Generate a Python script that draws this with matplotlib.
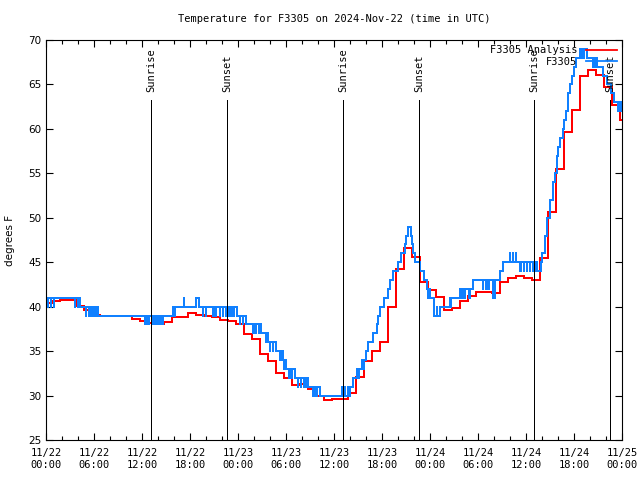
import numpy as np
import matplotlib
matplotlib.use("Agg")
import matplotlib.pyplot as plt
from matplotlib.ticker import MultipleLocator, FuncFormatter

# hours after 2024-11-22 00:00 UTC
# analysis (red): hourly values, valid from about hh:40
red_hours = [0.0] + [h + 0.7 for h in range(72)]
red_temps = [40.4,
             40.6, 40.7, 40.8, 40.1, 39.6, 39.1, 39.0, 39.0, 39.0, 38.9,
             38.6, 38.4, 38.2, 38.05, 38.3, 38.8, 38.8, 39.3, 39.1, 38.95,
             38.8, 38.5, 38.4, 38.0, 36.9, 36.4, 34.7, 33.9, 32.5, 32.0,
             31.2, 31.3, 30.7, 29.95, 29.5, 29.6, 29.6, 30.3, 32.1, 33.9,
             35.0, 36.0, 40.0, 44.2, 46.6, 45.6, 42.8, 41.9, 41.1, 39.6,
             39.9, 40.6, 41.2, 41.6, 41.7, 41.5, 42.8, 43.2, 43.45, 43.2,
             43.0, 45.5, 50.6, 55.5, 59.7, 62.1, 65.9, 66.6, 66.1, 64.7,
             62.7, 61.0]

# observations (blue): change points, hours and deg F
blue_hours = [0.0, 0.25, 0.3, 0.6, 0.65, 1.0, 1.05,
              3.6, 3.65, 3.95, 4.0, 4.25,
              5.0, 5.05, 5.4, 5.45, 5.8, 5.85, 6.15, 6.2, 6.45,
              12.4, 12.45, 12.8, 12.85, 13.2, 13.25, 13.55, 13.6, 13.9, 13.95,
              14.25, 14.3, 14.55, 14.6,
              15.9, 16.0, 16.1, 17.25, 17.3, 18.7, 19.1,
              19.6, 19.65, 19.95, 20.0, 20.9, 20.95, 21.25, 21.3,
              21.75, 21.8, 22.1, 22.15, 22.45, 22.5, 22.8, 22.85,
              23.15, 23.2, 23.5, 23.55, 23.85,
              24.25, 24.3, 24.6, 24.65, 24.95,
              25.9, 25.95, 26.25, 26.3, 26.6, 26.65, 26.9,
              27.5, 27.55, 27.7, 28.0, 28.05, 28.35, 28.4, 28.8,
              29.3, 29.35, 29.6, 29.8, 29.85, 30.0,
              30.4, 30.45, 30.75, 30.8, 31.1,
              31.5, 31.55, 31.85, 31.9, 32.2, 32.25, 32.5, 32.55, 32.75,
              33.4, 33.45, 33.8, 33.85, 34.25,
              37.0, 37.05, 37.35, 37.4, 37.7, 37.75, 38.0,
              38.4, 38.9, 38.95, 39.1, 39.5, 39.55, 39.7, 40.0, 40.3, 40.9, 41.4,
              41.5, 41.75, 42.25, 42.7, 43.0, 43.4, 44.0, 44.4, 44.9, 45.05, 45.3,
              45.6, 45.75, 45.9, 46.1, 46.5, 46.75, 47.3, 47.6, 47.8, 47.85, 48.0,
              48.5, 48.55, 48.85, 48.9, 49.25,
              50.5, 50.6, 50.65, 50.9, 51.75, 51.8, 52.05, 52.1, 52.4,
              52.9, 52.95, 53.4, 54.6, 54.65, 54.95, 55.0, 55.3, 55.35, 55.9, 56.1,
              56.75, 57.1, 58.0, 58.05, 58.35, 58.4, 58.7, 58.75, 59.0,
              59.3, 59.35, 59.7, 59.75, 60.1, 60.15, 60.5, 60.55, 60.9,
              61.3, 61.35, 61.9, 62.0, 62.4, 62.6, 63.0, 63.4, 63.6, 63.9, 64.0,
              64.25, 64.6, 64.75, 65.0, 65.25, 65.5, 65.75, 66.0, 66.25, 66.75,
              66.9, 66.95, 67.25, 67.3, 67.6, 68.4, 68.45, 68.65, 68.7, 68.9,
              69.6, 70.1, 70.6, 71.0, 71.5, 71.55, 71.8, 71.85]
blue_temps = [41, 40, 41, 40, 41, 40, 41,
              40, 41, 40, 41, 40,
              39, 40, 39, 40, 39, 40, 39, 40, 39,
              38, 39, 38, 39, 38, 39, 38, 39, 38, 39,
              38, 39, 38, 39,
              40, 39, 40, 41, 40, 41, 40,
              39, 40, 39, 40, 39, 40, 39, 40,
              39, 40, 39, 40, 39, 40, 39, 40,
              39, 40, 39, 40, 39,
              38, 39, 38, 39, 38,
              37, 38, 37, 38, 37, 38, 37,
              36, 37, 36, 35, 36, 35, 36, 35,
              34, 35, 34, 33, 34, 33,
              32, 33, 32, 33, 32,
              31, 32, 31, 32, 31, 32, 31, 32, 31,
              30, 31, 30, 31, 30,
              31, 30, 31, 30, 31, 30, 31,
              32, 33, 32, 33, 34, 33, 34, 35, 36, 37, 38,
              39, 40, 41, 42, 43, 44, 45, 46, 47, 48, 49,
              48, 47, 46, 45, 45, 44, 43, 42, 41, 42, 41,
              40, 39, 40, 39, 40,
              41, 40, 41, 41, 42, 41, 42, 41, 42,
              41, 42, 43, 42, 43, 42, 43, 42, 43, 41, 43,
              44, 45, 46, 45, 46, 45, 46, 45, 45,
              44, 45, 44, 45, 44, 45, 44, 45, 44,
              45, 44, 45, 46, 48, 50, 52, 54, 55, 57, 58,
              59, 60, 61, 62, 64, 65, 66, 67, 68, 69,
              68, 69, 68, 69, 68, 67, 68, 67, 68, 67,
              66, 65, 64, 63, 62, 63, 62, 63]

sun_hours = [13.1, 22.6, 37.1, 46.6, 61.0, 70.5]
sun_labels = ["Sunrise", "Sunset", "Sunrise", "Sunset", "Sunrise", "Sunset"]

mono = "DejaVu Sans Mono"

fig = plt.figure(figsize=(6.4, 4.8), dpi=100)
ax = fig.add_axes([0.072, 0.0833, 0.9, 0.8333])

rx = red_hours + [72]
ry = red_temps + [red_temps[-1]]
bx = blue_hours + [72]
by = blue_temps + [blue_temps[-1]]
ax.step(rx, ry, where="post", color="#ff0000", lw=1.3, antialiased=False,
        label="F3305 Analysis")
ax.step(bx, by, where="post", color="#1080ff", lw=1.3, antialiased=False,
        label="F3305")

for h, lab in zip(sun_hours, sun_labels):
    ax.plot([h, h], [25, 63.3], color="black", lw=0.7, antialiased=False)
    ax.text(h, 64.2, lab, rotation=90, ha="center", va="bottom",
            fontsize=7.5, family=mono)

ax.set_xlim(0, 72)
ax.set_ylim(25, 70)
ax.xaxis.set_major_locator(MultipleLocator(6))
ax.xaxis.set_minor_locator(MultipleLocator(2))
ax.yaxis.set_major_locator(MultipleLocator(5))

def fmt(h, pos):
    d = 22 + int(h // 24)
    return "11/%02d\n%02d:00" % (d, int(h % 24))

ax.xaxis.set_major_formatter(FuncFormatter(fmt))
ax.tick_params(which="both", direction="in", top=True, right=True, width=0.8)
ax.tick_params(which="major", length=5)
ax.tick_params(which="minor", length=3)
ax.tick_params(axis="x", labelsize=7.5, pad=6)
ax.tick_params(axis="y", labelsize=7.5)
for t in ax.get_xticklabels():
    t.set_family(mono)
for s in ax.spines.values():
    s.set_linewidth(0.8)

ax.set_ylabel("degrees F", fontsize=7.5, labelpad=9)
ax.set_title("Temperature for F3305 on 2024-Nov-22 (time in UTC)",
             fontsize=7.5, family=mono, pad=13)

ax.legend(loc="upper right", frameon=False, markerfirst=False,
          handlelength=3.0, labelspacing=0.15, borderaxespad=0.3,
          borderpad=0.2, prop={"family": mono, "size": 7.5})

fig.savefig("out.png", dpi=100)
